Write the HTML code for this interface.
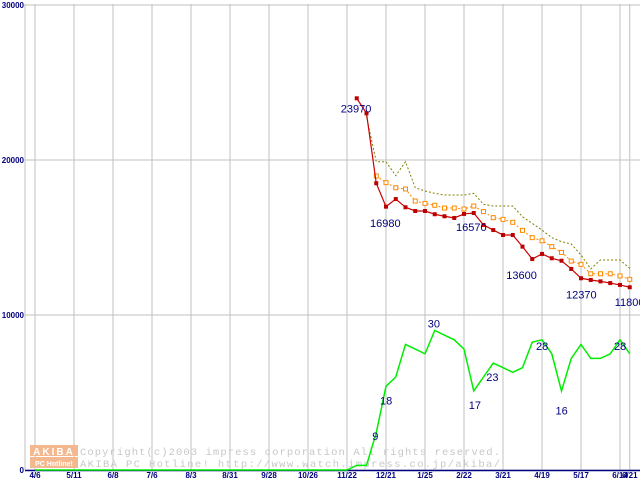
<!DOCTYPE html>
<html><head><meta charset="utf-8"><style>
html,body{margin:0;padding:0;background:#fff;}
svg{display:block;font-family:"Liberation Sans",sans-serif;}
</style></head><body>
<svg id="chart" width="640" height="480" xmlns="http://www.w3.org/2000/svg"></svg>
<script>
const xLabels=["4/6","5/11","6/8","7/6","8/3","8/31","9/28","10/26","11/22","12/21","1/25","2/22","3/21","4/19","5/17","6/14","6/21"];
const xLabelWeeks=[0,4,8,12,16,20,24,28,32,36,40,44,48,52,56,60,61];
const yTicks=[0,10000,20000,30000];
const redStart=33;
const redValues=[23980,23010,18500,16990,17480,16950,16710,16710,16500,16370,16260,16520,16580,15810,15480,15160,15160,14410,13610,13940,13660,13500,12970,12370,12260,12170,12060,11940,11790];
const orangeStart=35;
const orangeValues=[18970,18540,18210,18130,17350,17200,17080,16900,16900,16840,17030,16670,16280,16170,15980,15460,14990,14790,14410,14040,13480,13270,12660,12660,12660,12520,12300];
const oliveStart=34;
const oliveValues=[22800,19890,19890,18990,19890,18210,18000,17850,17740,17740,17740,17850,17140,17030,17030,17030,16340,15910,15480,14990,14730,14580,13870,12970,13550,13550,13550,13010];
const greenStart=32;
const greenCounts=[0,1,1,8,18,20,27,26,25,30,29,28,26,17,20,23,22,21,22,27.5,28,25,17,24,27,24,24,25,28,25];
const greenScale=300;
const priceLabels=[{w:33,v:23970,dx:-16,dy:14},{w:36,v:16980,dx:-16,dy:20},{w:44,v:16570,dx:-8,dy:18},{w:51,v:13600,dx:-26,dy:20},{w:56,v:12370,dx:-15,dy:20},{w:61,v:11800,dx:-15,dy:19}];
const countLabels=[{w:35,c:9,dx:-4,dy:12},{w:36,c:18,dx:-6,dy:18},{w:41,c:30,dx:-7,dy:-3},{w:45,c:17,dx:-5,dy:18},{w:47,c:23,dx:-7,dy:18},{w:52,c:28,dx:-6,dy:10},{w:54,c:16,dx:-6,dy:19},{w:60,c:28,dx:-6,dy:10}];

const NS="http://www.w3.org/2000/svg";
const svg=document.getElementById('chart');
const X=w=>35+w*9.75;
const Y=v=>470-v*0.0155;
function mk(tag,attrs,parent){const e=document.createElementNS(NS,tag);for(const k in attrs)e.setAttribute(k,attrs[k]);(parent||svg).appendChild(e);return e;}

// grid
mk('line',{x1:25,y1:4,x2:25,y2:470,stroke:'#c0c0c0'});
xLabelWeeks.forEach((w,i)=>{
  const l=mk('line',{x1:X(w),y1:4,x2:X(w),y2:470,stroke:'#c0c0c0'});
  
  
  const t=mk('text',{x:X(w),y:478,'font-size':8,'font-weight':'bold',fill:'#000080','text-anchor':'middle'});
  t.textContent=xLabels[i];
  
  
});
yTicks.forEach(v=>{
  const l=mk('line',{x1:25,y1:Y(v),x2:640,y2:Y(v),stroke:'#c0c0c0'});
  
  
  const t=mk('text',{x:24,y:Y(v)+3,'font-size':8,'font-weight':'bold',fill:'#000080','text-anchor':'end'});
  t.textContent=String(v);
  
  
});

// watermark
const wm=mk('g',{});


mk('rect',{x:30,y:445,width:48,height:11,fill:'#f4b890'},wm);
mk('rect',{x:30,y:457,width:48,height:11,fill:'#f4b890'},wm);
const a1=mk('text',{x:54,y:455,'font-size':10,'font-weight':'bold',fill:'#fff','text-anchor':'middle','letter-spacing':2},wm);a1.textContent='AKIBA';
const a2=mk('text',{x:54,y:466,'font-size':7,'font-weight':'bold',fill:'#fff','text-anchor':'middle'},wm);a2.textContent='PC Hotline!';
const c1=mk('text',{x:80,y:455,'font-size':10.5,fill:'#c8c8c8','font-family':'Liberation Mono',textLength:420},wm);c1.textContent='Copyright(c)2003 impress corporation All rights reserved.';
const c2=mk('text',{x:80,y:467,'font-size':10.5,fill:'#c8c8c8','font-family':'Liberation Mono',textLength:420},wm);c2.textContent='AKIBA PC Hotline!  http://www.watch.impress.co.jp/akiba/';

// axis line
mk('line',{x1:25,y1:470.5,x2:640,y2:470.5,stroke:'#000080','stroke-width':1.5});

function pts(start,vals,f){return vals.map((v,i)=>X(start+i)+','+f(v)).join(' ');}

// green: zero before start
const gpts=[X(0)+','+Y(0)].concat(greenCounts.map((c,i)=>X(greenStart+i)+','+Y(c*greenScale)));
const g=mk('polyline',{points:gpts.join(' '),fill:'none',stroke:'#00ee00','stroke-width':1.5});



const ol=mk('polyline',{points:pts(oliveStart,oliveValues,Y),fill:'none',stroke:'#808000','stroke-width':1,'stroke-dasharray':'2,2'});



const or=mk('polyline',{points:pts(orangeStart,orangeValues,Y),fill:'none',stroke:'#ff8800','stroke-width':1,'stroke-dasharray':'2,2'});


orangeValues.forEach((v,i)=>{
  const r=mk('rect',{x:X(orangeStart+i)-2,y:Y(v)-2,width:4,height:4,fill:'#fff',stroke:'#ff8800','stroke-width':1});
  
  
});

const rd=mk('polyline',{points:pts(redStart,redValues,Y),fill:'none',stroke:'#cc0000','stroke-width':1.2});


redValues.forEach((v,i)=>{
  const r=mk('rect',{x:X(redStart+i)-2,y:Y(v)-2,width:4,height:4,fill:'#bb0000'});
  
  
});

priceLabels.forEach(p=>{
  const t=mk('text',{x:X(p.w)+p.dx,y:Y(p.v)+p.dy,'font-size':11,fill:'#000080'});
  t.textContent=String(p.v);
  
  
});
countLabels.forEach(p=>{
  const t=mk('text',{x:X(p.w)+p.dx,y:Y(p.c*greenScale)+p.dy,'font-size':11,fill:'#000080'});
  t.textContent=String(p.c);
  
  
});
</script>
</body></html>
